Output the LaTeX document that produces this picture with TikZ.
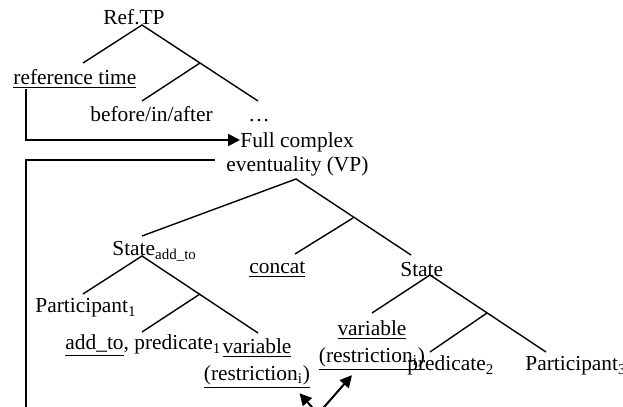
\documentclass[tikz,border=0pt]{standalone}
\usepackage{fontspec}
\setmainfont{Liberation Serif}
\usetikzlibrary{arrows.meta, positioning}

\begin{document}
\begin{tikzpicture}[
    x=0.5pt, y=-0.5pt,
    every node/.style={font=\fontsize{10.7}{13.5}\selectfont, inner sep=0pt},
    word/.style   ={anchor=base west},
    twoline/.style={align=center, anchor=north},
    branch/.style ={line width=0.7pt},
    link/.style   ={line width=1pt},
    arr/.style    ={link, -{Triangle[length=6pt, width=6pt]}}
]
\useasboundingbox (0,0) rectangle (623,407);
\clip (0,0) rectangle (623,407);

% upper tree
\node[word] (reftp)   at (103,25)  {Ref.TP};
\node[word] (reftime) at (13,84)   {\underline{reference time}};
\node[word] (bia)     at (90,121)  {before/in/after};
\node[word] (dots)    at (248,121) {\dots};
\coordinate (rtop) at (142,25);
\coordinate (rl)   at (83,63);
\coordinate (rr)   at (258,101);
\coordinate (rmid) at (200,63);
\coordinate (rml)  at (142,101);
\draw[branch] (rl) -- (rtop) -- (rr);
\draw[branch] (rmid) -- (rml);

% full eventuality
\node[word] (full) at (240,148) {Full complex};
\node[word] (evt)  at (226,171) {eventuality (VP)};
\coordinate (fold1)    at (26,140);
\coordinate (fold2)    at (215,160);
\coordinate (lowfold)  at (26,420);
\draw[arr] (reftime.south -| fold1) |- (full.west |- fold1);
\draw[link] (fold2) -| (lowfold);

\coordinate (vtop) at (296,179);
\coordinate (vl)   at (142,236);
\coordinate (vr)   at (411,255);
\coordinate (vmid) at (353,218);
\coordinate (vml)  at (295,254);
\draw[branch] (vl) -- (vtop) -- (vr);
\draw[branch] (vmid) -- (vml);

% middle level
\node[word] (stateL) at (112,256) {State\textsubscript{add\_to}};
\node[word] (concat) at (249,273) {\underline{concat}};
\node[word] (stateR) at (400,277) {State};

% left state
\coordinate (ltop) at (142,256);
\coordinate (ll)   at (83,294);
\coordinate (lr)   at (258,333);
\coordinate (lmid) at (200,294);
\coordinate (lml)  at (142,332);
\draw[branch] (ll) -- (ltop) -- (lr);
\draw[branch] (lmid) -- (lml);
\node[word] (part1) at (35,313) {Participant\textsubscript{1}};
\node[word] (pred1) at (65,350) {\underline{add\_to}, predicate\textsubscript{1}};
\node[twoline] (varL) at (257,338)
    {\underline{variable}\\\underline{(restriction\textsubscript{i})}};

% right state
\coordinate (stop) at (430,275);
\coordinate (sl)   at (372,313);
\coordinate (sr)   at (546,352);
\coordinate (smid) at (487,313);
\coordinate (sml)  at (430,352);
\draw[branch] (sl) -- (stop) -- (sr);
\draw[branch] (smid) -- (sml);
\node[twoline] (varR) at (372,320)
    {\underline{variable}\\\underline{(restriction\textsubscript{i})}};
\node[word] (pred2) at (407,371) {predicate\textsubscript{2}};
\node[word] (part3) at (525,371) {Participant\textsubscript{3}};

% coindexing arrows
\coordinate (src) at (318,414);
\draw[arr] (src) -- ([xshift=-5.5pt, yshift=-2pt]varL.south east);
\draw[arr] (src) -- ([xshift=-10pt, yshift=-2pt]varR.south);
\end{tikzpicture}
\end{document}
